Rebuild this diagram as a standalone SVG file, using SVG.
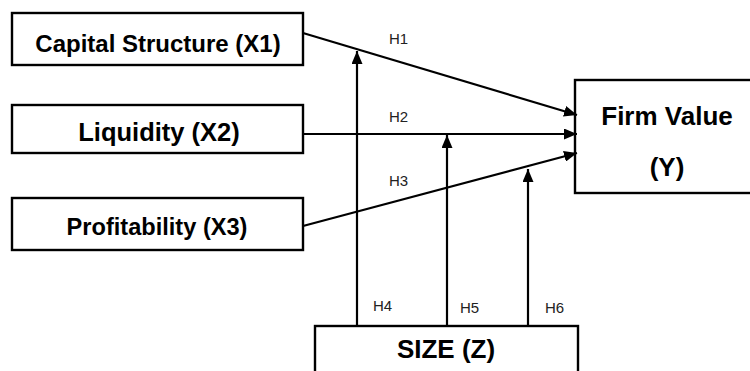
<svg xmlns="http://www.w3.org/2000/svg" width="750" height="371" viewBox="0 0 750 371">
<style>
.box{fill:#fff;stroke:#000;stroke-width:2.4}
.lbl{font-family:"Liberation Sans",Arial,sans-serif;font-weight:bold;fill:#000;text-anchor:middle}
.h{font-family:"Liberation Sans",Arial,sans-serif;font-size:15px;fill:#222}
.ln{stroke:#000;stroke-width:2.2;fill:none}
</style>
<defs>
<marker id="ah" viewBox="0 0 13 11" refX="13" refY="5.5" markerWidth="13" markerHeight="11" markerUnits="userSpaceOnUse" orient="auto">
<path d="M0,0 L13,5.5 L0,11 Z" fill="#000"/>
</marker>
</defs>
<rect width="750" height="371" fill="#fff"/>
<g id="x1"><rect class="box" x="12" y="13" width="291" height="52"/><text class="lbl" x="158" y="52" font-size="24">Capital Structure (X1)</text></g>
<g id="x2"><rect class="box" x="12" y="105" width="291" height="48"/><text class="lbl" x="159" y="141" font-size="25.5">Liquidity (X2)</text></g>
<g id="x3"><rect class="box" x="12" y="198" width="291" height="52"/><text class="lbl" x="157" y="235" font-size="23.6">Profitability (X3)</text></g>
<g id="y"><rect class="box" x="575" y="80" width="190" height="113"/><text class="lbl" x="667" y="125" font-size="26">Firm Value</text><text class="lbl" x="667" y="176" font-size="26">(Y)</text></g>
<g id="z"><rect class="box" x="315" y="326" width="263" height="60"/><text class="lbl" x="446" y="358" font-size="26">SIZE (Z)</text></g>
<g id="connectors">
<line class="ln" x1="303" y1="33" x2="577" y2="115" marker-end="url(#ah)"/>
<line class="ln" x1="303" y1="134" x2="577" y2="134" marker-end="url(#ah)"/>
<line class="ln" x1="303" y1="226" x2="577" y2="153" marker-end="url(#ah)"/>
<line class="ln" x1="357" y1="326" x2="357" y2="51" marker-end="url(#ah)"/>
<line class="ln" x1="447" y1="326" x2="447" y2="135" marker-end="url(#ah)"/>
<line class="ln" x1="528" y1="326" x2="528" y2="169" marker-end="url(#ah)"/>
</g>
<g id="labels">
<text class="h" x="389" y="44">H1</text>
<text class="h" x="389" y="122">H2</text>
<text class="h" x="389" y="186">H3</text>
<text class="h" x="373" y="311">H4</text>
<text class="h" x="460" y="313">H5</text>
<text class="h" x="545" y="313">H6</text>
</g>
</svg>
